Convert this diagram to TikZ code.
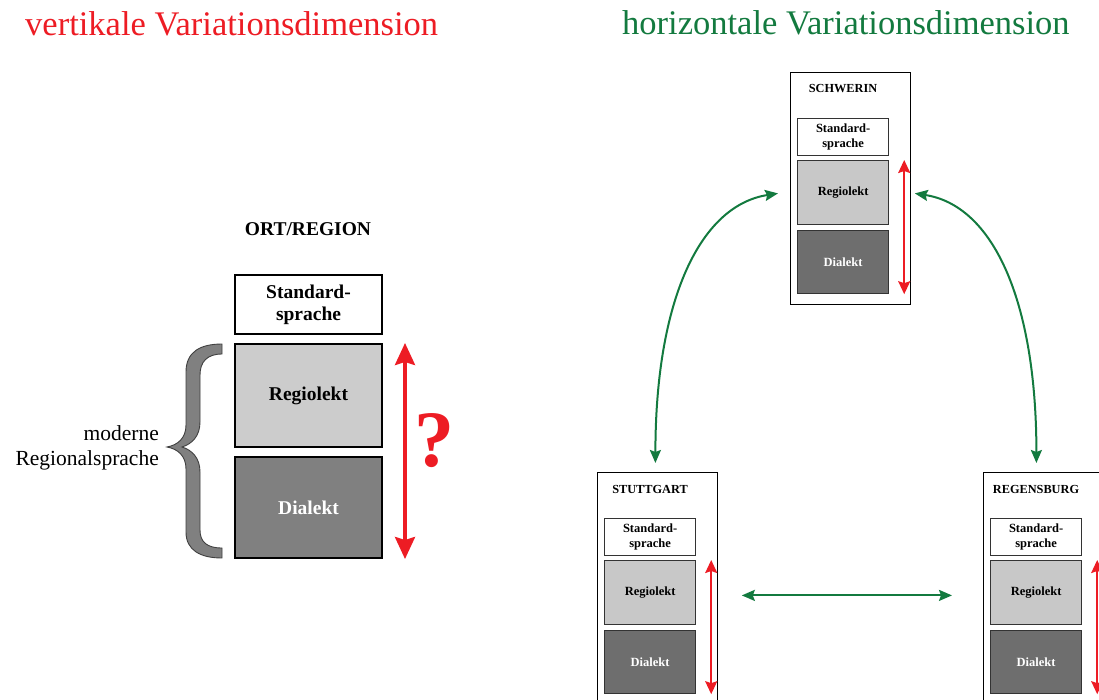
\documentclass[tikz,border=0pt]{standalone}
\usepackage{fontspec}
\setmainfont{Liberation Serif}
\usetikzlibrary{arrows.meta,calc}
\definecolor{myred}{HTML}{ED1C24}
\definecolor{mygreen}{HTML}{137A3F}
\definecolor{lgray}{HTML}{CCCCCC}
\definecolor{dgray}{HTML}{808080}
\definecolor{slgray}{HTML}{C8C8C8}
\definecolor{sdgray}{HTML}{6E6E6E}
\definecolor{edgegray}{HTML}{333333}
\newcommand\cityPanel[4]{%
  \node[panel, anchor=north west] (#1) at (#2,#3) {};
  \node[ptitle] (#1-t) at ($(#1.north west)+(53,17)$) {#4};
  \node[sstd] (#1-s) at ($(#1.north west)+(7,46)$) {Standard-\\sprache};
  \node[sreg] (#1-r) at ($(#1.north west)+(7,88)$) {Regiolekt};
  \node[sdia] (#1-d) at ($(#1.north west)+(7,158)$) {Dialekt};
  \draw[sredarrow] ($(#1-r.north east)+(15,0)$) -- ($(#1-d.south east)+(15,0)$);
}
\begin{document}
\begin{tikzpicture}[x=1pt,y=-1pt,
  title/.style={anchor=base west, inner sep=0pt, font=\fontsize{34.5}{40}\selectfont},
  bigbox/.style={draw=black, line width=2pt, minimum width=147pt, inner sep=0pt, align=center,
    font=\bfseries\fontsize{19.5}{22}\selectfont},
  panel/.style={draw=black, line width=0.8pt, minimum width=120pt, minimum height=232pt, inner sep=0pt},
  ptitle/.style={inner sep=0pt, font=\bfseries\fontsize{12.3}{15}\selectfont},
  smallbox/.style={anchor=north west, draw=edgegray, line width=1.2pt, minimum width=91pt, inner sep=1pt,
    align=center, font=\bfseries\fontsize{12.5}{15}\selectfont},
  sstd/.style={smallbox, fill=white, minimum height=37pt},
  sreg/.style={smallbox, fill=slgray, minimum height=64pt},
  sdia/.style={smallbox, fill=sdgray, minimum height=63pt, text=white},
  sredarrow/.style={draw=myred, line width=2pt, {Stealth[length=13pt,width=12pt,inset=2pt]}-{Stealth[length=13pt,width=12pt,inset=2pt]}},
  bigredarrow/.style={draw=myred, line width=3.5pt, {Stealth[length=22pt,width=20pt,inset=3pt]}-{Stealth[length=22pt,width=20pt,inset=3pt]}},
  garrow/.style={draw=mygreen, line width=2pt, {Stealth[length=13pt,width=11pt,inset=2pt]}-{Stealth[length=13pt,width=11pt,inset=2pt]}}
]
\useasboundingbox (0,0) rectangle (1099,700);

% titles
\node[title, text=myred] (tv) at (25,36) {vertikale Variationsdimension};
\node[title, text=mygreen] (th) at (622,35) {horizontale Variationsdimension};

% left part
\node[inner sep=0pt, font=\bfseries\fontsize{19.5}{22}\selectfont] (ort) at (308,229) {ORT/REGION};
\node[bigbox, fill=white, minimum height=59pt] (std) at (308.5,304.5) {Standard-\\sprache};
\node[bigbox, fill=lgray, minimum height=103pt] (reg) at (308.5,395.5) {Regiolekt};
\node[bigbox, fill=dgray, minimum height=101pt, text=white] (dia) at (308.5,507.5) {Dialekt};
\draw[bigredarrow] ($(reg.north east)+(22,0)$) -- ($(dia.south east)+(22,0)$);
\node[inner sep=0pt, text=myred, font=\bfseries\fontsize{80}{80}\selectfont] (q) at (434,441) {?};

% brace
\draw[fill=dgray, draw=black!75, line width=0.9pt]
  (222,344) .. controls (200,344) and (186,352) .. (186,372) -- (186,425)
  .. controls (186,438) and (178,445) .. (167,447)
  .. controls (178,449) and (186,456) .. (186,469) -- (186,532)
  .. controls (186,550) and (200,558) .. (222,558) -- (222,548)
  .. controls (207,548) and (200,542) .. (200,530) -- (200,472)
  .. controls (200,458) and (192,450) .. (182,447)
  .. controls (192,444) and (200,436) .. (200,422) -- (200,375)
  .. controls (200,362) and (207,354) .. (222,354) -- cycle;
\node[anchor=east, inner sep=0pt, align=right, font=\fontsize{21.5}{25}\selectfont] (mod) at (159,448) {moderne\\Regionalsprache};

% right part
\cityPanel{schwerin}{790}{72}{SCHWERIN}
\cityPanel{stuttgart}{597}{472}{STUTTGART}
\cityPanel{regensburg}{983}{472}{REGENSBURG}

\draw[garrow] ($(schwerin.west)+(-12,5)$) .. controls +(-78,12) and +(0,-163) .. ($(stuttgart.north)+(-2,-9)$);
\draw[garrow] ($(schwerin.east)+(4,5)$) .. controls +(78,12) and +(0,-163) .. ($(regensburg.north)+(-7,-9)$);
\draw[garrow] ($(stuttgart.east)+(24,7)$) -- ($(regensburg.west)+(-31,7)$);
\end{tikzpicture}
\end{document}
